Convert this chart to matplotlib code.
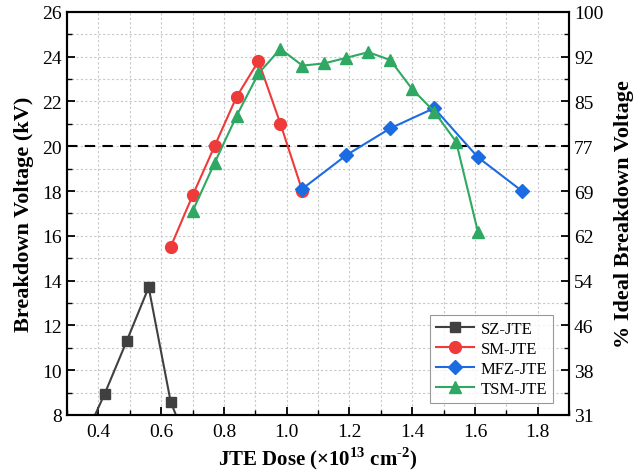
import matplotlib
matplotlib.use("Agg")
import matplotlib.pyplot as plt
from matplotlib.ticker import MultipleLocator, FixedLocator

plt.rcParams['font.family'] = ['Liberation Serif', 'DejaVu Serif']
plt.rcParams['mathtext.fontset'] = 'custom'
plt.rcParams['mathtext.rm'] = 'Liberation Serif:bold'
plt.rcParams['mathtext.bf'] = 'Liberation Serif:bold'

# JTE dose (x1e13 cm^-2) and breakdown voltage (kV) for each termination design
sz_dose = [0.35, 0.42, 0.49, 0.56, 0.63, 0.70]
sz_bv = [6.8, 8.95, 11.3, 13.7, 8.6, 6.1]

sm_dose = [0.63, 0.70, 0.77, 0.84, 0.91, 0.98, 1.05]
sm_bv = [15.5, 17.8, 20.0, 22.2, 23.8, 21.0, 18.0]

mfz_dose = [1.05, 1.19, 1.33, 1.47, 1.61, 1.75]
mfz_bv = [18.1, 19.6, 20.8, 21.7, 19.5, 18.0]

tsm_dose = [0.70, 0.77, 0.84, 0.91, 0.98, 1.05, 1.12, 1.19, 1.26, 1.33,
            1.40, 1.47, 1.54, 1.61]
tsm_bv = [17.1, 19.25, 21.35, 23.25, 24.35, 23.6, 23.7, 23.95, 24.2, 23.85,
          22.55, 21.55, 20.2, 16.15]

x_ticks = [0.4, 0.6, 0.8, 1.0, 1.2, 1.4, 1.6, 1.8]
x_tick_labels = ['0.4', '0.6', '0.8', '1.0', '1.2', '1.4', '1.6', '1.8']

ideal_bv = 26.0      # ideal breakdown voltage (kV)
target_bv = 20.0     # reference level

fig = plt.figure(figsize=(6.33, 4.77), dpi=100)
ax = fig.add_axes([0.106, 0.128, 0.793, 0.845])

series = [
    (sz_dose, sz_bv, 'SZ-JTE', '#404040', 's', 7.5),
    (sm_dose, sm_bv, 'SM-JTE', '#ef3a3a', 'o', 8.5),
    (mfz_dose, mfz_bv, 'MFZ-JTE', '#1b6ce0', 'D', 7.5),
    (tsm_dose, tsm_bv, 'TSM-JTE', '#2ea862', '^', 9),
]
for x, y, lab, c, m, ms in series:
    ax.plot(x, y, color=c, marker=m, markersize=ms, lw=1.5, label=lab,
            clip_on=True, zorder=3)

ax.axhline(target_bv, color='black', lw=1.5, ls=(0, (5, 3.5)), zorder=2)

ax.set_xlim(0.3, 1.9)
ax.set_ylim(8, 26)
ax.xaxis.set_major_locator(FixedLocator(x_ticks))
ax.xaxis.set_minor_locator(MultipleLocator(0.1))
ax.yaxis.set_major_locator(MultipleLocator(2))
ax.yaxis.set_minor_locator(MultipleLocator(1))
ax.grid(which='both', color='#c8c8c8', ls=(0, (2, 2)), lw=0.8, zorder=0)
ax.set_axisbelow(True)

ax.tick_params(which='major', direction='in', length=6, width=1.3, labelsize=14)
ax.tick_params(which='minor', direction='in', length=3.5, width=1.0)
ax.tick_params(axis='x', pad=6)
ax.set_xticklabels(x_tick_labels)

for sp in ax.spines.values():
    sp.set_linewidth(1.5)

ax.set_xlabel(r'JTE Dose (×10$^{\mathrm{13}}$ cm$^{\text{-2}}$)', fontsize=15,
              fontweight='bold', labelpad=3)
ax.set_ylabel('Breakdown Voltage (kV)', fontsize=16, fontweight='bold', labelpad=6)

# secondary axis: percentage of the ideal breakdown voltage
ax2 = ax.twinx()
ax2.set_ylim(8, 26)
yt = list(range(8, 27, 2))
ax2.set_yticks(yt)
ax2.set_yticklabels([str(round(v / ideal_bv * 100)) for v in yt])
ax2.yaxis.set_minor_locator(MultipleLocator(1))
ax2.tick_params(which='major', direction='in', length=6, width=1.3, labelsize=14)
ax2.tick_params(which='minor', direction='in', length=3.5, width=1.0)
ax2.set_ylabel('% Ideal Breakdown Voltage', fontsize=16, fontweight='bold',
               labelpad=8)
for sp in ax2.spines.values():
    sp.set_linewidth(1.5)

leg = ax.legend(loc='lower right', bbox_to_anchor=(0.968, 0.03), fontsize=12,
                frameon=True, fancybox=False, edgecolor='#808080',
                handlelength=2.3, borderpad=0.35, labelspacing=0.25,
                handletextpad=0.4, borderaxespad=0.0)
leg.get_frame().set_linewidth(0.8)

fig.savefig('out.png', dpi=100)
